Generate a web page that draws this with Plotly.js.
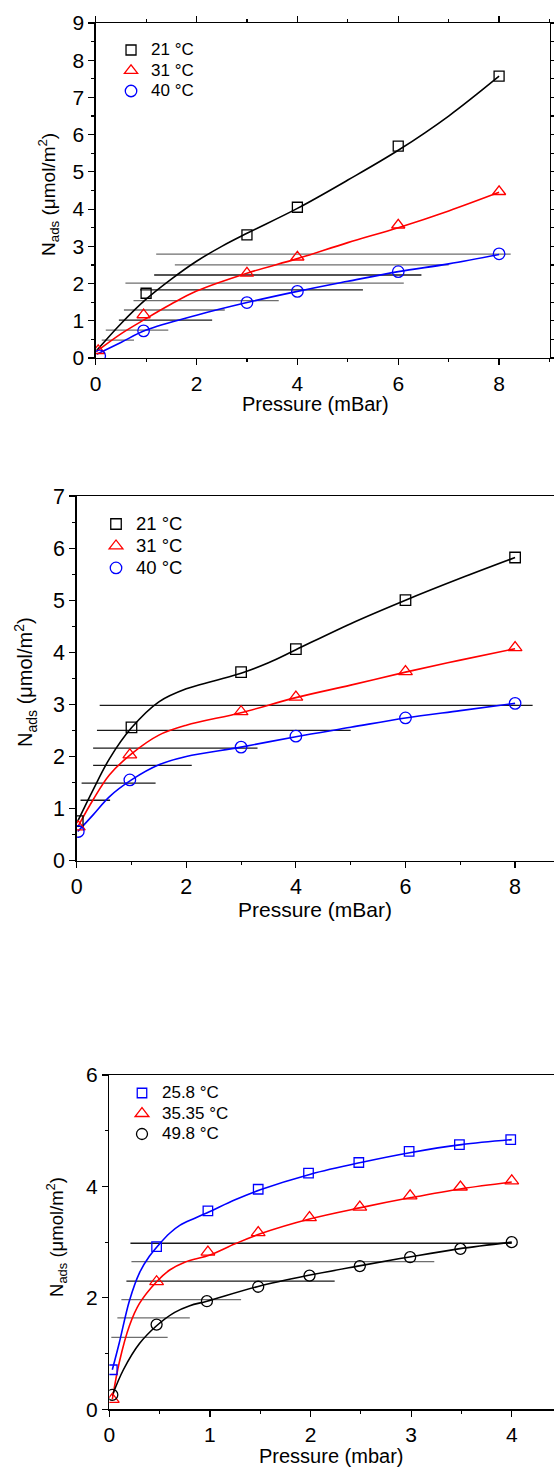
<!DOCTYPE html>
<html><head><meta charset="utf-8">
<script src="https://cdn.plot.ly/plotly-3.0.1.min.js"></script>
<style>html,body{margin:0;padding:0;overflow:hidden;background:#fff}</style>
</head><body><div id="chart"></div>
<script>
// ---------- Panel 1 ----------
const p1_names = ['21 °C', '31 °C', '40 °C'];
const p1_x21 = [1, 3, 4, 6, 8];
const p1_y21 = [1.74, 3.31, 4.05, 5.69, 7.57];
const p1_x31 = [0.05, 0.95, 3, 4, 6, 8];
const p1_y31 = [0.2, 1.16, 2.28, 2.71, 3.57, 4.47];
const p1_x40 = [0.08, 0.95, 3, 4, 6, 8];
const p1_y40 = [0.06, 0.73, 1.49, 1.79, 2.32, 2.80];
const p1_fit21_x = [0.02, 0.5, 1, 1.5, 2, 2.5, 3, 4, 5, 6, 7, 8];
const p1_fit21_y = [0.2, 0.92, 1.58, 2.12, 2.6, 3.0, 3.35, 4.02, 4.78, 5.58, 6.5, 7.57];
const p1_fit31_x = [0.02, 0.5, 1, 1.5, 2, 3, 4, 5, 6, 7, 8];
const p1_fit31_y = [0.18, 0.65, 1.06, 1.45, 1.8, 2.28, 2.67, 3.1, 3.5, 3.95, 4.45];
const p1_fit40_x = [0.02, 0.5, 1, 2, 3, 4, 5, 6, 7, 8];
const p1_fit40_y = [0.1, 0.42, 0.75, 1.15, 1.49, 1.79, 2.06, 2.32, 2.53, 2.78];
const p1_hl_y  = [2.79, 2.50, 2.23, 2.01, 1.83, 1.54, 1.29, 1.02, 0.75, 0.48];
const p1_hl_x0 = [1.20, 1.57, 1.16, 0.59, 0.88, 0.75, 0.56, 0.46, 0.20, 0.12];
const p1_hl_x1 = [8.23, 7.00, 6.46, 6.11, 5.30, 3.63, 2.56, 2.31, 1.44, 0.76];
const p1_hl_tone = ['g', 'g', 'd', 'g', 'd', 'g', 'g', 'd', 'g', 'g'];

// ---------- Panel 2 ----------
const p2_names = ['21 °C', '31 °C', '40 °C'];
const p2_x21 = [0.02, 1, 3, 4, 6, 8];
const p2_y21 = [0.76, 2.56, 3.62, 4.06, 5.00, 5.82];
const p2_x31 = [0.03, 0.97, 3, 4, 6, 8];
const p2_y31 = [0.65, 2.03, 2.86, 3.14, 3.63, 4.09];
const p2_x40 = [0.03, 0.97, 3, 4, 6, 8];
const p2_y40 = [0.56, 1.55, 2.18, 2.39, 2.74, 3.02];
const p2_fit21_x = [0.02, 0.3, 0.6, 1, 1.5, 2, 2.5, 3, 3.5, 4, 5, 6, 7, 8];
const p2_fit21_y = [0.76, 1.36, 1.96, 2.55, 3.05, 3.3, 3.45, 3.6, 3.8, 4.05, 4.55, 5.0, 5.42, 5.82];
const p2_fit31_x = [0.02, 0.3, 0.6, 1, 1.5, 2, 3, 4, 5, 6, 7, 8];
const p2_fit31_y = [0.65, 1.17, 1.65, 2.05, 2.41, 2.6, 2.84, 3.13, 3.37, 3.62, 3.85, 4.07];
const p2_fit40_x = [0.02, 0.3, 0.6, 1, 1.5, 2, 3, 4, 5, 6, 7, 8];
const p2_fit40_y = [0.56, 0.88, 1.23, 1.55, 1.84, 2.0, 2.18, 2.38, 2.56, 2.74, 2.88, 3.02];
const p2_hl_y  = [2.98, 2.50, 2.16, 1.83, 1.49, 1.16];
const p2_hl_x0 = [0.42, 0.37, 0.30, 0.30, 0.09, 0.07];
const p2_hl_x1 = [8.32, 5.00, 3.30, 2.10, 1.44, 0.61];
const p2_hl_tone = ['d', 'd', 'd', 'd', 'd', 'd'];

// ---------- Panel 3 ----------
const p3_names = ['25.8 °C', '35.35 °C', '49.8 °C'];
const p3_x258 = [0.03, 0.47, 0.98, 1.48, 1.98, 2.48, 2.98, 3.48, 3.99];
const p3_y258 = [0.71, 2.92, 3.56, 3.95, 4.24, 4.43, 4.63, 4.75, 4.84];
const p3_x3535 = [0.03, 0.47, 0.98, 1.48, 1.99, 2.49, 2.99, 3.49, 4.0];
const p3_y3535 = [0.18, 2.29, 2.82, 3.17, 3.44, 3.63, 3.83, 3.99, 4.10];
const p3_x498 = [0.03, 0.47, 0.97, 1.48, 1.99, 2.49, 2.99, 3.49, 4.0];
const p3_y498 = [0.26, 1.52, 1.94, 2.20, 2.40, 2.57, 2.73, 2.88, 3.00];
const p3_fit258_x = [0.03, 0.1, 0.2, 0.3, 0.4, 0.5, 0.6, 0.7, 0.85, 1, 1.25, 1.5, 2, 2.5, 3, 3.5, 4];
const p3_fit258_y = [0.71, 1.2, 1.95, 2.45, 2.75, 2.97, 3.16, 3.3, 3.43, 3.55, 3.76, 3.94, 4.22, 4.43, 4.61, 4.75, 4.84];
const p3_fit3535_x = [0.03, 0.1, 0.2, 0.3, 0.47, 0.6, 0.75, 1, 1.25, 1.5, 2, 2.5, 3, 3.5, 4];
const p3_fit3535_y = [0.18, 0.85, 1.5, 1.9, 2.29, 2.5, 2.64, 2.77, 2.97, 3.15, 3.42, 3.62, 3.8, 3.96, 4.08];
const p3_fit498_x = [0.03, 0.14, 0.3, 0.47, 0.65, 0.8, 0.97, 1.47, 1.97, 2.47, 2.97, 3.47, 4];
const p3_fit498_y = [0.25, 0.71, 1.18, 1.5, 1.74, 1.86, 1.94, 2.2, 2.4, 2.57, 2.73, 2.88, 3.0];
const p3_hl_y  = [2.98, 2.65, 2.30, 1.97, 1.64, 1.29];
const p3_hl_x0 = [0.21, 0.22, 0.17, 0.12, 0.08, 0.02];
const p3_hl_x1 = [4.00, 3.23, 2.24, 1.31, 0.80, 0.58];
const p3_hl_tone = ['d', 'g', 'd', 'g', 'g', 'g'];

// ---------- styles ----------
const FONT = 'Arial, Liberation Sans, sans-serif';
const BLACK = '#000000', RED = '#ff0000', BLUE = '#0000ff';
const TONES = {d: '#1a1a1a', g: '#6e6e6e'};
const traces = [];

function hlines(ys, x0s, x1s, tones, xa, ya) {
  ys.forEach((y, i) => {
    traces.push({x: [x0s[i], x1s[i]], y: [y, y], xaxis: xa, yaxis: ya, mode: 'lines',
      line: {color: TONES[tones[i]], width: 1.3}, showlegend: false, hoverinfo: 'skip'});
  });
}
function fit(x, y, color, xa, ya) {
  traces.push({x, y, xaxis: xa, yaxis: ya, mode: 'lines',
    line: {color, width: 1.6, shape: 'spline', smoothing: 1}, showlegend: false, hoverinfo: 'skip'});
}
function pts(x, y, color, symbol, size, name, txtSize, xa, ya, leg) {
  traces.push({x, y, xaxis: xa, yaxis: ya, mode: 'markers', legend: leg,
    name: '<span style="font-size:' + txtSize + 'px">' + name + '</span>',
    marker: {symbol, size, color, line: {color, width: 1.3}}});
}

hlines(p1_hl_y, p1_hl_x0, p1_hl_x1, p1_hl_tone, 'x', 'y');
fit(p1_fit21_x, p1_fit21_y, BLACK, 'x', 'y');
fit(p1_fit31_x, p1_fit31_y, RED, 'x', 'y');
fit(p1_fit40_x, p1_fit40_y, BLUE, 'x', 'y');
pts(p1_x21, p1_y21, BLACK, 'square-open', 10, p1_names[0], 17, 'x', 'y', 'legend');
pts(p1_x31, p1_y31, RED, 'triangle-up-open', 11.5, p1_names[1], 17, 'x', 'y', 'legend');
pts(p1_x40, p1_y40, BLUE, 'circle-open', 11.5, p1_names[2], 17, 'x', 'y', 'legend');

hlines(p2_hl_y, p2_hl_x0, p2_hl_x1, p2_hl_tone, 'x2', 'y2');
fit(p2_fit21_x, p2_fit21_y, BLACK, 'x2', 'y2');
fit(p2_fit31_x, p2_fit31_y, RED, 'x2', 'y2');
fit(p2_fit40_x, p2_fit40_y, BLUE, 'x2', 'y2');
pts(p2_x21, p2_y21, BLACK, 'square-open', 10.5, p2_names[0], 18.5, 'x2', 'y2', 'legend2');
pts(p2_x31, p2_y31, RED, 'triangle-up-open', 12, p2_names[1], 18.5, 'x2', 'y2', 'legend2');
pts(p2_x40, p2_y40, BLUE, 'circle-open', 11.5, p2_names[2], 18.5, 'x2', 'y2', 'legend2');

hlines(p3_hl_y, p3_hl_x0, p3_hl_x1, p3_hl_tone, 'x3', 'y3');
fit(p3_fit258_x, p3_fit258_y, BLUE, 'x3', 'y3');
fit(p3_fit3535_x, p3_fit3535_y, RED, 'x3', 'y3');
fit(p3_fit498_x, p3_fit498_y, BLACK, 'x3', 'y3');
pts(p3_x258, p3_y258, BLUE, 'square-open', 9.5, p3_names[0], 17, 'x3', 'y3', 'legend3');
pts(p3_x3535, p3_y3535, RED, 'triangle-up-open', 12, p3_names[1], 17, 'x3', 'y3', 'legend3');
pts(p3_x498, p3_y498, BLACK, 'circle-open', 11, p3_names[2], 17, 'x3', 'y3', 'legend3');

function axis(extra, fs) {
  return Object.assign({
    showline: true, linecolor: '#000', linewidth: 1.3, ticks: 'outside', ticklen: 6,
    tickwidth: 1.2, tickcolor: '#000', showgrid: false, zeroline: false, fixedrange: true,
    tickfont: {family: FONT, size: fs, color: '#000'}, autorange: false
  }, extra);
}
const minor = (d) => ({dtick: d, ticks: 'outside', ticklen: 3, tickwidth: 1.1, tickcolor: '#000', showgrid: false});

const ytitle = 'N<sub>ads</sub> (μmol/m<sup>2</sup>)';
function ann(text, x, y, size, angle) {
  return {text, x, y, xref: 'paper', yref: 'paper', showarrow: false, textangle: angle || 0,
    xanchor: 'center', yanchor: 'middle', font: {family: FONT, size, color: '#000'}};
}
function leg(x, y, size) {
  return {x, y, xref: 'paper', yref: 'paper', xanchor: 'left', yanchor: 'top',
    bgcolor: 'rgba(0,0,0,0)', borderwidth: 0, font: {family: FONT, size, color: '#000'},
    tracegroupgap: 0, traceorder: 'normal'};
}

const layout = {
  width: 554, height: 1471, margin: {l: 0, r: 0, t: 0, b: 0},
  paper_bgcolor: '#fff', plot_bgcolor: '#fff', showlegend: true,
  xaxis: axis({domain: [0.1727, 0.9919], range: [0, 9], tick0: 0, dtick: 2, minor: minor(1), mirror: 'ticks', anchor: 'y'}, 21),
  yaxis: axis({domain: [0.7566, 0.9844], range: [0, 9], tick0: 0, dtick: 1, minor: minor(0.5), mirror: 'ticks', anchor: 'x'}, 21),
  xaxis2: axis({domain: [0.1384, 1], range: [0, 8.71], tick0: 0, dtick: 2, minor: minor(1), mirror: true, anchor: 'y2'}, 21.5),
  yaxis2: axis({domain: [0.4149, 0.6628], range: [0, 7], tick0: 0, dtick: 1, minor: minor(0.5), anchor: 'x2'}, 21.5),
  xaxis3: axis({domain: [0.1973, 1], range: [0, 4.42], tick0: 0, dtick: 1, minor: minor(0.5), mirror: true, anchor: 'y3'}, 21),
  yaxis3: axis({domain: [0.04194, 0.2692], range: [0, 6], tick0: 0, dtick: 2, minor: minor(1), anchor: 'x3'}, 21),
  legend: leg(0.2004, 0.97638, 13.46),
  legend2: leg(0.1733, 0.65466, 14.6),
  legend3: leg(0.2202, 0.26733, 13.46),
  annotations: [
    ann('Pressure (mBar)', 0.570, 0.7255, 20),
    ann(ytitle, 0.0866, 0.8681, 19, -90),
    ann('Pressure (mBar)', 0.5686, 0.3815, 21),
    ann(ytitle, 0.0469, 0.5364, 20, -90),
    ann('Pressure (mbar)', 0.5975, 0.0100, 20),
    ann(ytitle, 0.1029, 0.1591, 18.5, -90)
  ]
};
Plotly.newPlot('chart', traces, layout, {displayModeBar: false, staticPlot: true});
</script></body></html>
